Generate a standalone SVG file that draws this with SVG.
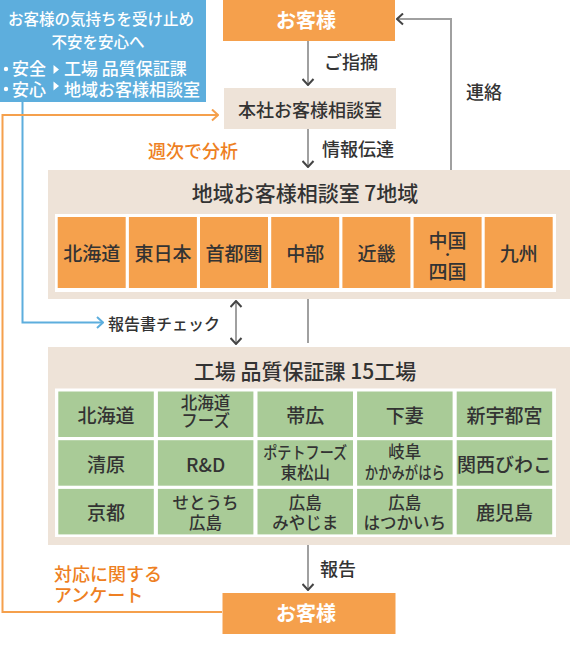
<svg xmlns="http://www.w3.org/2000/svg" width="570" height="649" viewBox="0 0 570 649">
<style>
text{font-family:"Noto Sans CJK JP","Noto Sans",sans-serif;fill:#333;font-weight:500}
.w{fill:#fff}
.wb{fill:#fff;font-weight:bold;font-size:20px;text-anchor:middle}
.lbl{font-size:18px}
.org{fill:#EE7F22;font-size:18px}
.ttl{font-size:21px;text-anchor:middle}
.rc{fill:#F5A14D}
.gc{fill:#A9CB97}
.c19{font-size:19px;text-anchor:middle}
.c16{font-size:16.5px;text-anchor:middle}
.beige{fill:#EEE3D8}
.ln{fill:none;stroke:#A0A0A0;stroke-width:2}
</style>
<defs>
<marker id="ad" markerUnits="userSpaceOnUse" markerWidth="9" markerHeight="13" viewBox="-8 -6.5 9 13" refX="0" refY="0" orient="auto-start-reverse"><path d="M-6,-5.5 L0,0 L-6,5.5" fill="none" stroke="#444" stroke-width="2"/></marker>
<marker id="ab" markerUnits="userSpaceOnUse" markerWidth="9" markerHeight="13" viewBox="-8 -6.5 9 13" refX="0" refY="0" orient="auto"><path d="M-6,-5.5 L0,0 L-6,5.5" fill="none" stroke="#5DAEDD" stroke-width="2"/></marker>
<marker id="ao" markerUnits="userSpaceOnUse" markerWidth="9" markerHeight="13" viewBox="-8 -6.5 9 13" refX="0" refY="0" orient="auto"><path d="M-6,-5.5 L0,0 L-6,5.5" fill="none" stroke="#F5A04C" stroke-width="2"/></marker>
</defs>

<g id="connectors">
<path class="ln" d="M308,41 V85" marker-end="url(#ad)"/>
<path class="ln" d="M308,129 V167" marker-end="url(#ad)"/>
<path class="ln" d="M451,170 V19 H397" marker-end="url(#ad)"/>
<path class="ln" d="M236,301 V344" marker-start="url(#ad)" marker-end="url(#ad)"/>
<path class="ln" d="M308,299 V343"/>
<path class="ln" d="M308,545 V590" marker-end="url(#ad)"/>
<path d="M22.5,102 V322.5 H103" fill="none" stroke="#5DAEDD" stroke-width="2" marker-end="url(#ab)"/>
<path d="M222,612 H2.5 V115 H218" fill="none" stroke="#F5A04C" stroke-width="2" marker-end="url(#ao)"/>
<text class="lbl" x="324" y="69">ご指摘</text>
<text class="lbl" x="322" y="156">情報伝達</text>
<text class="lbl" x="466" y="99">連絡</text>
<text class="org" x="148" y="158">週次で分析</text>
<text x="108" y="330" font-size="16">報告書チェック</text>
<text class="lbl" x="320" y="576">報告</text>
<text class="org" x="54" y="581">対応に関する</text>
<text class="org" x="54" y="602">アンケート</text>
</g>

<g id="note">
<rect x="0" y="0" width="206" height="102" fill="#5DAEDD"/>
<text class="w" x="101" y="25" font-size="15.5" text-anchor="middle">お客様の気持ちを受け止め</text>
<text class="w" x="98" y="48" font-size="15.5" text-anchor="middle">不安を安心へ</text>
<circle cx="6" cy="69" r="2.2" fill="#fff"/>
<text class="w" x="12" y="75" font-size="17">安全</text>
<polygon points="53.5,65 59,69.5 53.5,74" fill="#fff"/>
<text class="w" x="64" y="75" font-size="17">工場 品質保証課</text>
<circle cx="6" cy="89" r="2.2" fill="#fff"/>
<text class="w" x="12" y="96" font-size="17">安心</text>
<polygon points="53.5,81.5 59,86 53.5,90.5" fill="#fff"/>
<text class="w" x="64" y="96" font-size="17">地域お客様相談室</text>
</g>

<g id="customer-top">
<rect x="223" y="0" width="172" height="41" fill="#F5A04C"/>
<text class="wb" x="306" y="28">お客様</text>
</g>

<g id="head-office">
<rect x="224" y="88" width="172" height="41" class="beige"/>
<text x="310" y="117" font-size="18" text-anchor="middle">本社お客様相談室</text>
</g>

<g id="regional">
<rect x="48" y="170" width="522" height="129" class="beige"/>
<text class="ttl" x="305" y="201">地域お客様相談室 7地域</text>
<rect x="55" y="214" width="501" height="78" fill="#fff"/>
<g id="r-hokkaido"><rect class="rc" x="57.7" y="217" width="68" height="71"/><text class="c19" x="91.7" y="261">北海道</text></g>
<g id="r-higashinihon"><rect class="rc" x="128.9" y="217" width="68" height="71"/><text class="c19" x="162.9" y="261">東日本</text></g>
<g id="r-shutoken"><rect class="rc" x="200" y="217" width="68" height="71"/><text class="c19" x="234" y="261">首都圏</text></g>
<g id="r-chubu"><rect class="rc" x="271.2" y="217" width="68" height="71"/><text class="c19" x="305.2" y="261">中部</text></g>
<g id="r-kinki"><rect class="rc" x="342.4" y="217" width="68" height="71"/><text class="c19" x="376.4" y="261">近畿</text></g>
<g id="r-chugoku-shikoku"><rect class="rc" x="413.6" y="217" width="68" height="71"/><text class="c19" x="447.6" y="248">中国</text><text x="447.6" y="260" font-size="12" text-anchor="middle">・</text><text class="c19" x="447.6" y="279">四国</text></g>
<g id="r-kyushu"><rect class="rc" x="484.7" y="217" width="68" height="71"/><text class="c19" x="518.7" y="261">九州</text></g>
</g>

<g id="factories">
<rect x="48" y="347" width="522" height="198" class="beige"/>
<text class="ttl" x="305" y="379">工場 品質保証課 15工場</text>
<rect x="55" y="388.5" width="501" height="148.5" fill="#fff"/>
<g id="f1"><rect class="gc" x="58.3" y="391.5" width="95.5" height="45.5"/><text class="c19" x="106" y="423">北海道</text></g>
<g id="f2"><rect class="gc" x="157.9" y="391.5" width="95.5" height="45.5"/><text class="c16" x="205.6" y="409">北海道</text><text class="c16" x="205.6" y="427">フーズ</text></g>
<g id="f3"><rect class="gc" x="257.5" y="391.5" width="95.5" height="45.5"/><text class="c19" x="305.2" y="423">帯広</text></g>
<g id="f4"><rect class="gc" x="357.1" y="391.5" width="95.5" height="45.5"/><text class="c19" x="404.8" y="423">下妻</text></g>
<g id="f5"><rect class="gc" x="456.7" y="391.5" width="95.5" height="45.5"/><text class="c19" x="504.4" y="423">新宇都宮</text></g>
<g id="f6"><rect class="gc" x="58.3" y="440.2" width="95.5" height="45.5"/><text class="c19" x="106" y="471.5">清原</text></g>
<g id="f7"><rect class="gc" x="157.9" y="440.2" width="95.5" height="45.5"/><text class="c19" x="205.6" y="471.5">R&amp;D</text></g>
<g id="f8"><rect class="gc" x="257.5" y="440.2" width="95.5" height="45.5"/><text class="c16" x="305.2" y="459" textLength="84" lengthAdjust="spacingAndGlyphs">ポテトフーズ</text><text class="c16" x="305.2" y="479">東松山</text></g>
<g id="f9"><rect class="gc" x="357.1" y="440.2" width="95.5" height="45.5"/><text class="c16" x="404.8" y="458">岐阜</text><text class="c16" x="404.8" y="478.5" textLength="80" lengthAdjust="spacingAndGlyphs">かかみがはら</text></g>
<g id="f10"><rect class="gc" x="456.7" y="440.2" width="95.5" height="45.5"/><text class="c19" x="504.4" y="471.5">関西びわこ</text></g>
<g id="f11"><rect class="gc" x="58.3" y="488.9" width="95.5" height="45.5"/><text class="c19" x="106" y="520">京都</text></g>
<g id="f12"><rect class="gc" x="157.9" y="488.9" width="95.5" height="45.5"/><text class="c16" x="205.6" y="509">せとうち</text><text class="c16" x="205.6" y="528.5">広島</text></g>
<g id="f13"><rect class="gc" x="257.5" y="488.9" width="95.5" height="45.5"/><text class="c16" x="305.2" y="509">広島</text><text class="c16" x="305.2" y="528.5">みやじま</text></g>
<g id="f14"><rect class="gc" x="357.1" y="488.9" width="95.5" height="45.5"/><text class="c16" x="404.8" y="509">広島</text><text class="c16" x="404.8" y="528.5">はつかいち</text></g>
<g id="f15"><rect class="gc" x="456.7" y="488.9" width="95.5" height="45.5"/><text class="c19" x="504.4" y="520">鹿児島</text></g>
</g>

<g id="customer-bottom">
<rect x="222.5" y="593" width="173" height="41" fill="#F5A04C"/>
<text class="wb" x="306" y="621">お客様</text>
</g>
</svg>
